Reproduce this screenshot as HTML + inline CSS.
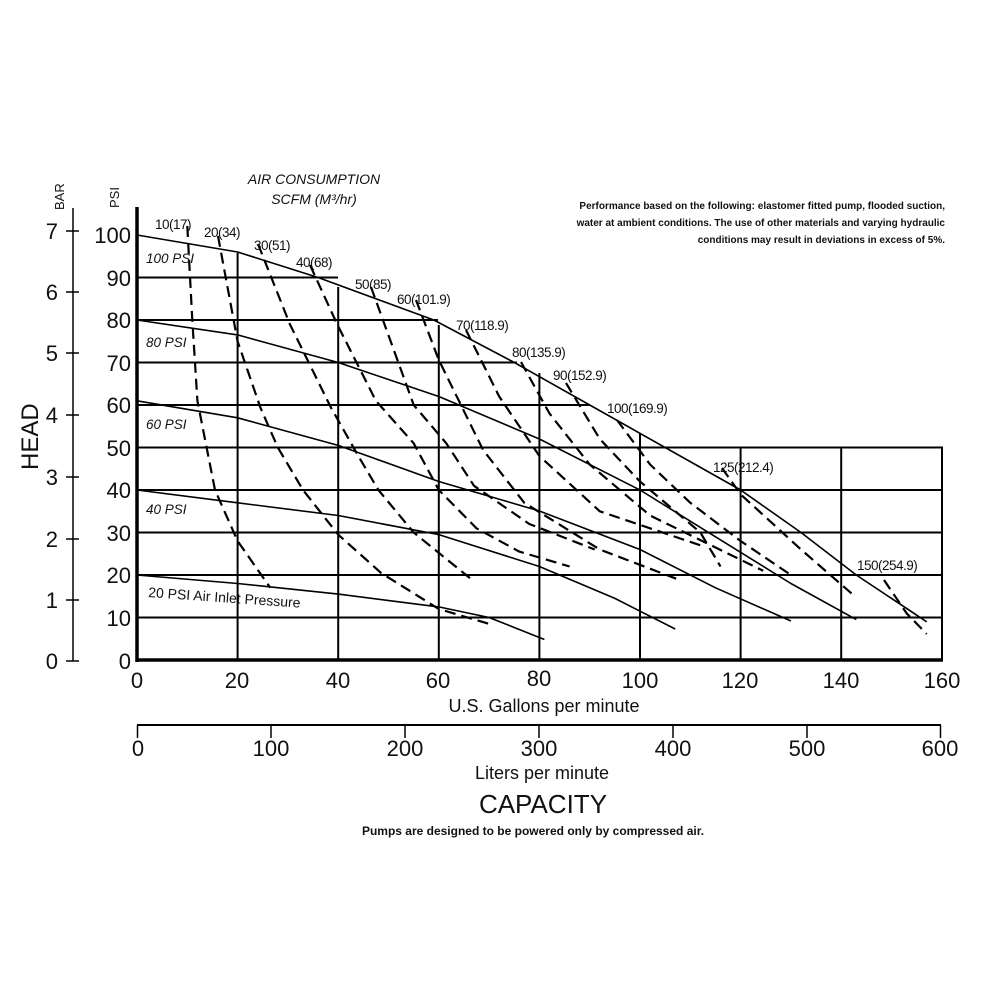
<!DOCTYPE html>
<html><head><meta charset="utf-8"><style>
html,body{margin:0;padding:0;background:#fff;}
svg{display:block;}
text{font-family:"Liberation Sans",Arial,sans-serif;fill:#111;}
</style></head><body>
<svg width="1000" height="1000" viewBox="0 0 1000 1000" xmlns="http://www.w3.org/2000/svg">
<rect width="1000" height="1000" fill="#fff"/>
<!-- grid -->
<g stroke="#000" stroke-width="2" fill="none">
<line x1="137" y1="277.5" x2="338" y2="277.5"/>
<line x1="137" y1="320" x2="438" y2="320"/>
<line x1="137" y1="362.5" x2="517" y2="362.5"/>
<line x1="137" y1="405" x2="590" y2="405"/>
<line x1="137" y1="447.5" x2="943" y2="447.5"/>
<line x1="137" y1="490" x2="943" y2="490"/>
<line x1="137" y1="532.5" x2="943" y2="532.5"/>
<line x1="137" y1="575" x2="943" y2="575"/>
<line x1="137" y1="617.5" x2="943" y2="617.5"/>
<line x1="237.6" y1="253" x2="237.6" y2="660"/>
<line x1="338.2" y1="287" x2="338.2" y2="660"/>
<line x1="438.8" y1="325" x2="438.8" y2="660"/>
<line x1="539.4" y1="373" x2="539.4" y2="660"/>
<line x1="640" y1="433" x2="640" y2="660"/>
<line x1="740.6" y1="447.5" x2="740.6" y2="660"/>
<line x1="841.2" y1="447.5" x2="841.2" y2="660"/>
<line x1="942" y1="446.5" x2="942" y2="661"/>
</g>
<!-- axes -->
<g stroke="#000" fill="none">
<line x1="137" y1="207" x2="137" y2="662" stroke-width="3.5"/>
<line x1="135.5" y1="660" x2="943" y2="660" stroke-width="3.5"/>
<line x1="73" y1="208" x2="73" y2="661" stroke-width="1.5"/>
<g stroke-width="1.5">
<line x1="66" y1="231" x2="79" y2="231"/><line x1="66" y1="292" x2="79" y2="292"/>
<line x1="66" y1="353" x2="79" y2="353"/><line x1="66" y1="415" x2="79" y2="415"/>
<line x1="66" y1="477" x2="79" y2="477"/><line x1="66" y1="539" x2="79" y2="539"/>
<line x1="66" y1="600" x2="79" y2="600"/><line x1="66" y1="661" x2="79" y2="661"/>
</g>
<line x1="137" y1="725" x2="941" y2="725" stroke-width="2"/>
<g stroke-width="1.5">
<line x1="137.5" y1="725" x2="137.5" y2="738"/><line x1="271" y1="725" x2="271" y2="738"/>
<line x1="405" y1="725" x2="405" y2="738"/><line x1="539" y1="725" x2="539" y2="738"/>
<line x1="673" y1="725" x2="673" y2="738"/><line x1="807" y1="725" x2="807" y2="738"/>
<line x1="940.5" y1="725" x2="940.5" y2="738"/>
</g>
</g>
<!-- solid pressure curves -->
<g stroke="#000" stroke-width="1.6" fill="none" stroke-linejoin="round">
<polyline points="137,235 237.6,252 318.1,277.5 433.8,320 514.3,362.5 589.7,405 680.2,456 740.6,490 801,532.5 856.3,575 926.7,621.8"/>
<polyline points="137,320 237.6,334.9 338.2,362.5 438.8,396.5 539.4,439 640,490 715.5,536.8 790.9,583.5 856.3,619.6"/>
<polyline points="137,400.8 237.6,417.8 338.2,445.4 438.8,481.5 539.4,511 640,549.5 715.5,587.8 790.9,621"/>
<polyline points="137,490 237.6,502.8 338.2,515.5 438.8,534.6 539.4,566.5 614.9,598.4 675.2,629"/>
<polyline points="137,575 237.6,583.5 338.2,594.1 438.8,606.9 489.1,617.5 544.4,639.5"/>
</g>
<!-- dashed air consumption curves -->
<g stroke="#000" stroke-width="2.2" fill="none" stroke-dasharray="11,6" stroke-linejoin="round">
<polyline points="187.3,226 192.3,320 197.4,400.8 215,490 237.6,541 270.3,587.8"/>
<polyline points="218,236 237.6,341.3 260.2,407.1 277.8,447.5 303,490 338.2,534.6 381,572.9 438.8,609 489.1,623.9"/>
<polyline points="258,244 289.9,324.3 330.7,407.1 358.3,456 378.4,490 413.7,532.5 474,581.4"/>
<polyline points="310,265 337.2,324.3 375.9,400.8 413.7,443.3 438.8,490 476.5,528.3 519.3,551.6 569.6,566.5"/>
<polyline points="371,287 413.7,405 446.3,443.3 474,485.8 529.3,524 594.7,549.5"/>
<polyline points="416,300 438.8,360 483.1,450 524.3,502.8 599.8,549.5 677.7,579.3"/>
<polyline points="466,330 499.2,396.5 539.4,456 599.8,511.3 700.4,545.3"/>
<polyline points="521,362 549.5,413.5 589.7,464.5 650.1,515.5 763.2,570.8"/>
<polyline points="566,383 599.8,439 640,481.5 700.4,532.5 720.5,566.5"/>
<polyline points="617,420 650.1,464.5 690.3,502.8 740.6,541 790.9,575"/>
<polyline points="722,468 740.6,494.3 801,549.5 854.8,596.3"/>
<polyline points="884,580 906.6,613.3 926.7,634"/>
</g>
<!-- curve labels -->
<g font-size="13.5" font-style="italic">
<text x="146" y="263">100 PSI</text>
<text x="146" y="347">80 PSI</text>
<text x="146" y="429">60 PSI</text>
<text x="146" y="514">40 PSI</text>
</g>
<text x="148" y="597" font-size="14" transform="rotate(4 148 597)">20 PSI Air Inlet Pressure</text>
<g font-size="13.5" letter-spacing="-0.5">
<text x="155" y="229">10(17)</text>
<text x="204" y="237">20(34)</text>
<text x="254" y="250">30(51)</text>
<text x="296" y="267">40(68)</text>
<text x="355" y="289">50(85)</text>
<text x="397" y="304">60(101.9)</text>
<text x="456" y="330">70(118.9)</text>
<text x="512" y="357">80(135.9)</text>
<text x="553" y="380">90(152.9)</text>
<text x="607" y="413">100(169.9)</text>
<text x="713" y="472">125(212.4)</text>
<text x="857" y="570">150(254.9)</text>
</g>
<!-- headers -->
<g font-size="14" font-style="italic" text-anchor="middle">
<text x="314" y="184">AIR CONSUMPTION</text>
<text x="314" y="204">SCFM (M³/hr)</text>
</g>
<g font-size="10" font-weight="bold" text-anchor="end" fill="#222">
<text x="945" y="209">Performance based on the following: elastomer fitted pump, flooded suction,</text>
<text x="945" y="226">water at ambient conditions. The use of other materials and varying hydraulic</text>
<text x="945" y="243">conditions may result in deviations in excess of 5%.</text>
</g>
<text transform="translate(64,210) rotate(-90)" font-size="13">BAR</text>
<text transform="translate(119,208) rotate(-90)" font-size="13">PSI</text>
<text transform="translate(38,470) rotate(-90)" font-size="24">HEAD</text>
<!-- BAR labels -->
<g font-size="22" text-anchor="end">
<text x="58" y="239">7</text><text x="58" y="300">6</text><text x="58" y="361">5</text>
<text x="58" y="423">4</text><text x="58" y="485">3</text><text x="58" y="547">2</text>
<text x="58" y="608">1</text><text x="58" y="669">0</text>
</g>
<!-- PSI labels -->
<g font-size="22" text-anchor="end">
<text x="131" y="243">100</text><text x="131" y="286">90</text><text x="131" y="328">80</text>
<text x="131" y="371">70</text><text x="131" y="413">60</text><text x="131" y="456">50</text>
<text x="131" y="498">40</text><text x="131" y="541">30</text><text x="131" y="583">20</text>
<text x="131" y="626">10</text><text x="131" y="669">0</text>
</g>
<!-- gallons labels -->
<g font-size="22" text-anchor="middle">
<text x="137" y="688">0</text><text x="237" y="688">20</text><text x="338" y="688">40</text>
<text x="438" y="688">60</text><text x="539" y="686">80</text><text x="640" y="688">100</text>
<text x="740" y="688">120</text><text x="841" y="688">140</text><text x="942" y="688">160</text>
</g>
<text x="544" y="712" font-size="18" text-anchor="middle">U.S. Gallons per minute</text>
<g font-size="22" text-anchor="middle">
<text x="138" y="756">0</text><text x="271" y="756">100</text><text x="405" y="756">200</text>
<text x="539" y="756">300</text><text x="673" y="756">400</text><text x="807" y="756">500</text>
<text x="940" y="756">600</text>
</g>
<text x="542" y="779" font-size="18" text-anchor="middle">Liters per minute</text>
<text x="543" y="813" font-size="26" text-anchor="middle">CAPACITY</text>
<text x="533" y="835" font-size="12" font-weight="bold" text-anchor="middle">Pumps are designed to be powered only by compressed air.</text>
</svg>
</body></html>
